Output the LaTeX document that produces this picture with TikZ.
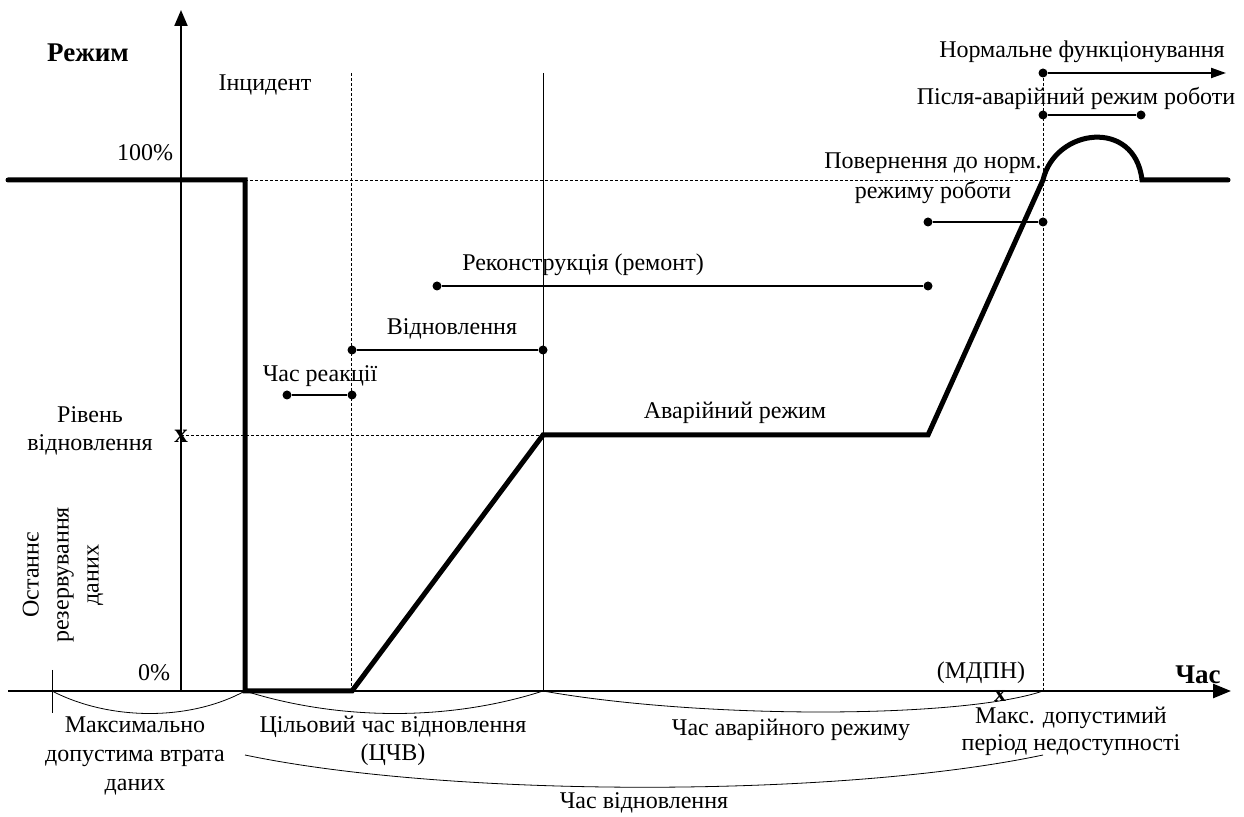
\documentclass[tikz,border=0pt]{standalone}
\usepackage{fontspec}
\setmainfont{Liberation Serif}
\usetikzlibrary{arrows.meta}
\tikzset{
  lbl/.style={inner sep=0pt, outer sep=0pt, align=center},
  boldlbl/.style={lbl, font=\fontsize{27}{30}\selectfont\bfseries},
  crossmark/.style={lbl, font=\fontsize{27}{30}\selectfont\bfseries},
  modeline/.style={line width=5pt, line join=miter, line cap=round},
  axisline/.style={line width=2pt},
  guide/.style={line width=0.7pt, dash pattern=on 3pt off 2pt},
  span/.style={line width=2pt},
  brace/.style={line width=0.8pt},
  dot/.style={circle, fill, inner sep=0pt, minimum size=9pt}
}
\begin{document}
\begin{tikzpicture}[x=1pt,y=1pt,font=\fontsize{24}{28}\selectfont]
\path[use as bounding box,fill=white] (0,0) rectangle (1244,816);

% key points
\coordinate (O) at (181,125);
\coordinate (yTop) at (181,806);
\coordinate (xL) at (8,125);
\coordinate (xR) at (1231,125);
\coordinate (tick) at (52,125);
\coordinate (inc) at (245,125);
\coordinate (react) at (351,125);
\coordinate (rto) at (543,125);
\coordinate (mtpd) at (1043,125);

% guide lines
\draw[guide] (245,636) -- (1142,636);
\draw[guide] (181,381) -- (543,381);
\draw[guide] (351,743) -- (react);
\draw[guide] (1043,743) -- (mtpd);
\draw[line width=0.8pt] (543,743) -- (rto);

% axes
\draw[axisline,-{Triangle[length=16pt,width=13pt]}] (O) -- (yTop);
\draw[line width=2.6pt,-{Triangle[length=18pt,width=14pt]}] (xL) -- (xR);
\draw[line width=1pt] (52,146) -- (52,103);

% mode curve
\draw[modeline] (8,636) -- (245,636) -- (245,125) -- (352,125) -- (543,381)
  -- (928,381) -- (1043,636) .. controls (1055,688) and (1135,698) .. (1142,636)
  -- (1228,636);

% braces under the time axis
\draw[brace] (tick) .. controls (110,95) and (190,95) .. (inc);
\draw[brace] (inc) .. controls (340,95) and (450,95) .. (rto);
\draw[brace] (rto) .. controls (700,97) and (960,97) .. (mtpd);
\draw[brace] (245,61) .. controls (450,18) and (840,18) .. (1043,61);

% phase spans
\node[dot] (r1) at (287,421) {};
\node[dot] (r2) at (352,421) {};
\draw[span] (r1) -- (r2);
\node[dot] (v1) at (352,466) {};
\node[dot] (v2) at (543,466) {};
\draw[span] (v1) -- (v2);
\node[dot] (k1) at (437,530) {};
\node[dot] (k2) at (928,530) {};
\draw[span] (k1) -- (k2);
\node[dot] (p1) at (928,594) {};
\node[dot] (p2) at (1043,594) {};
\draw[span] (p1) -- (p2);
\node[dot] (a1) at (1043,701) {};
\node[dot] (a2) at (1141,701) {};
\draw[span] (a1) -- (a2);
\node[dot] (n1) at (1043,743) {};
\coordinate (n2) at (1226,743);
\draw[span,-{Triangle[length=15pt,width=10pt]}] (n1) -- (n2);

% labels
\node[boldlbl] (mode) at (88,763) {Режим};
\node[lbl] (incident) at (265,731) {Інцидент};
\node[lbl,anchor=east] (p100) at (173,663) {100\%};
\node[lbl,anchor=east] (p0) at (170,143) {0\%};
\node[lbl] (level) at (90,385) {Рівень\\відновлення};
\node[lbl,rotate=90,font=\fontsize{24}{30}\selectfont] (backup) at (63,241) {Останнє\\резервування\\даних};
\node[crossmark] (xlevel) at (181,380) {x};
\node[lbl,font=\fontsize{24}{28}\selectfont\bfseries] (xmtpd) at (1000,120) {x};
\node[boldlbl] (time) at (1198,141) {Час};
\node[lbl] (mdpn) at (981,143) {(МДПН)};
\node[lbl,font=\fontsize{24}{29}\selectfont] (rpo) at (135,60) {Максимально\\допустима втрата\\даних};
\node[lbl] (rtotxt) at (393,75) {Цільовий час відновлення\\(ЦЧВ)};
\node[lbl] (emtime) at (791,86) {Час аварійного режиму};
\node[lbl,font=\fontsize{24}{27}\selectfont] (mtpdtxt) at (1071,85) {Макс. допустимий\\період недоступності};
\node[lbl] (rectime) at (644,13) {Час відновлення};
\node[lbl] (emmode) at (735,403) {Аварійний режим};
\node[lbl] (reacttxt) at (320,440) {Час реакції};
\node[lbl] (renew) at (452,487) {Відновлення};
\node[lbl] (recon) at (583,551) {Реконструкція (ремонт)};
\node[lbl,font=\fontsize{24}{30}\selectfont] (back) at (933,638) {Повернення до норм.\\режиму роботи};
\node[lbl] (post) at (1076,718) {Після-аварійний режим роботи};
\node[lbl] (normal) at (1082,764) {Нормальне функціонування};
\end{tikzpicture}
\end{document}
